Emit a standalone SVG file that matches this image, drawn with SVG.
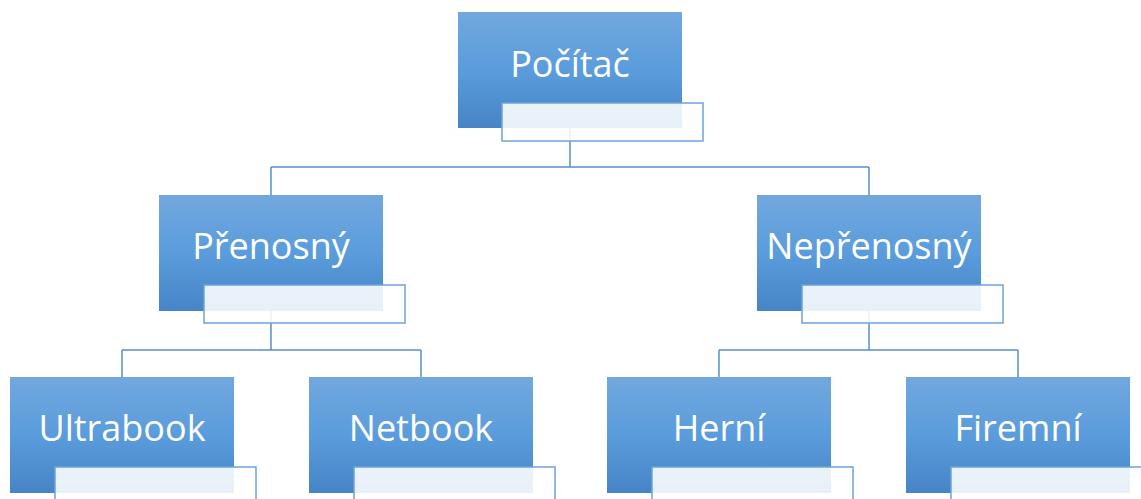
<svg xmlns="http://www.w3.org/2000/svg" width="1141" height="499" viewBox="0 0 1141 499">
  <defs>
    <linearGradient id="g" x1="0" y1="0" x2="0" y2="1">
      <stop offset="0" stop-color="#72a8de"/>
      <stop offset="0.5" stop-color="#5a9cdc"/>
      <stop offset="1" stop-color="#4684c6"/>
    </linearGradient>
  </defs>
  <style>
    .box { fill: url(#g); }
    .sub { fill: #ffffff; fill-opacity: 0.88; stroke: #6fa3d9; stroke-width: 1.5; }
    .lbl { fill: #ffffff; font-family: "Open Sans", "Liberation Sans", sans-serif; font-size: 36px; text-anchor: middle; }
    .con { fill: none; stroke: #5b8fc7; stroke-width: 1.5; }
  </style>
  <rect width="1141" height="499" fill="#ffffff"/>
  <g id="connectors">
    <path class="con" d="M570 128 V167 M271 167 H869 M271 167 V195 M869 167 V195"/>
    <path class="con" d="M271 311 V350 M122 350 H421 M122 350 V377 M421 350 V377"/>
    <path class="con" d="M869 311 V350 M719 350 H1018 M719 350 V377 M1018 350 V377"/>
  </g>
  <g id="node-pocitac">
    <rect class="box" x="458" y="12" width="224" height="116"/>
    <text class="lbl" x="570" y="77">Počítač</text>
    <rect class="sub" x="502" y="103" width="201" height="38"/>
  </g>
  <g id="node-prenosny">
    <rect class="box" x="159" y="195" width="224" height="116"/>
    <text class="lbl" x="271" y="259">Přenosný</text>
    <rect class="sub" x="204" y="285" width="201" height="38"/>
  </g>
  <g id="node-neprenosny">
    <rect class="box" x="757" y="195" width="224" height="116"/>
    <text class="lbl" x="869" y="259">Nepřenosný</text>
    <rect class="sub" x="802" y="285" width="201" height="38"/>
  </g>
  <g id="node-ultrabook">
    <rect class="box" x="10" y="377" width="224" height="116"/>
    <text class="lbl" x="122" y="441">Ultrabook</text>
    <rect class="sub" x="55" y="467" width="201" height="38"/>
  </g>
  <g id="node-netbook">
    <rect class="box" x="309" y="377" width="224" height="116"/>
    <text class="lbl" x="421" y="441">Netbook</text>
    <rect class="sub" x="354" y="467" width="201" height="38"/>
  </g>
  <g id="node-herni">
    <rect class="box" x="607" y="377" width="224" height="116"/>
    <text class="lbl" x="719" y="441">Herní</text>
    <rect class="sub" x="652" y="467" width="201" height="38"/>
  </g>
  <g id="node-firemni">
    <rect class="box" x="906" y="377" width="224" height="116"/>
    <text class="lbl" x="1018" y="441">Firemní</text>
    <rect class="sub" x="951" y="467" width="201" height="38"/>
  </g>
</svg>
